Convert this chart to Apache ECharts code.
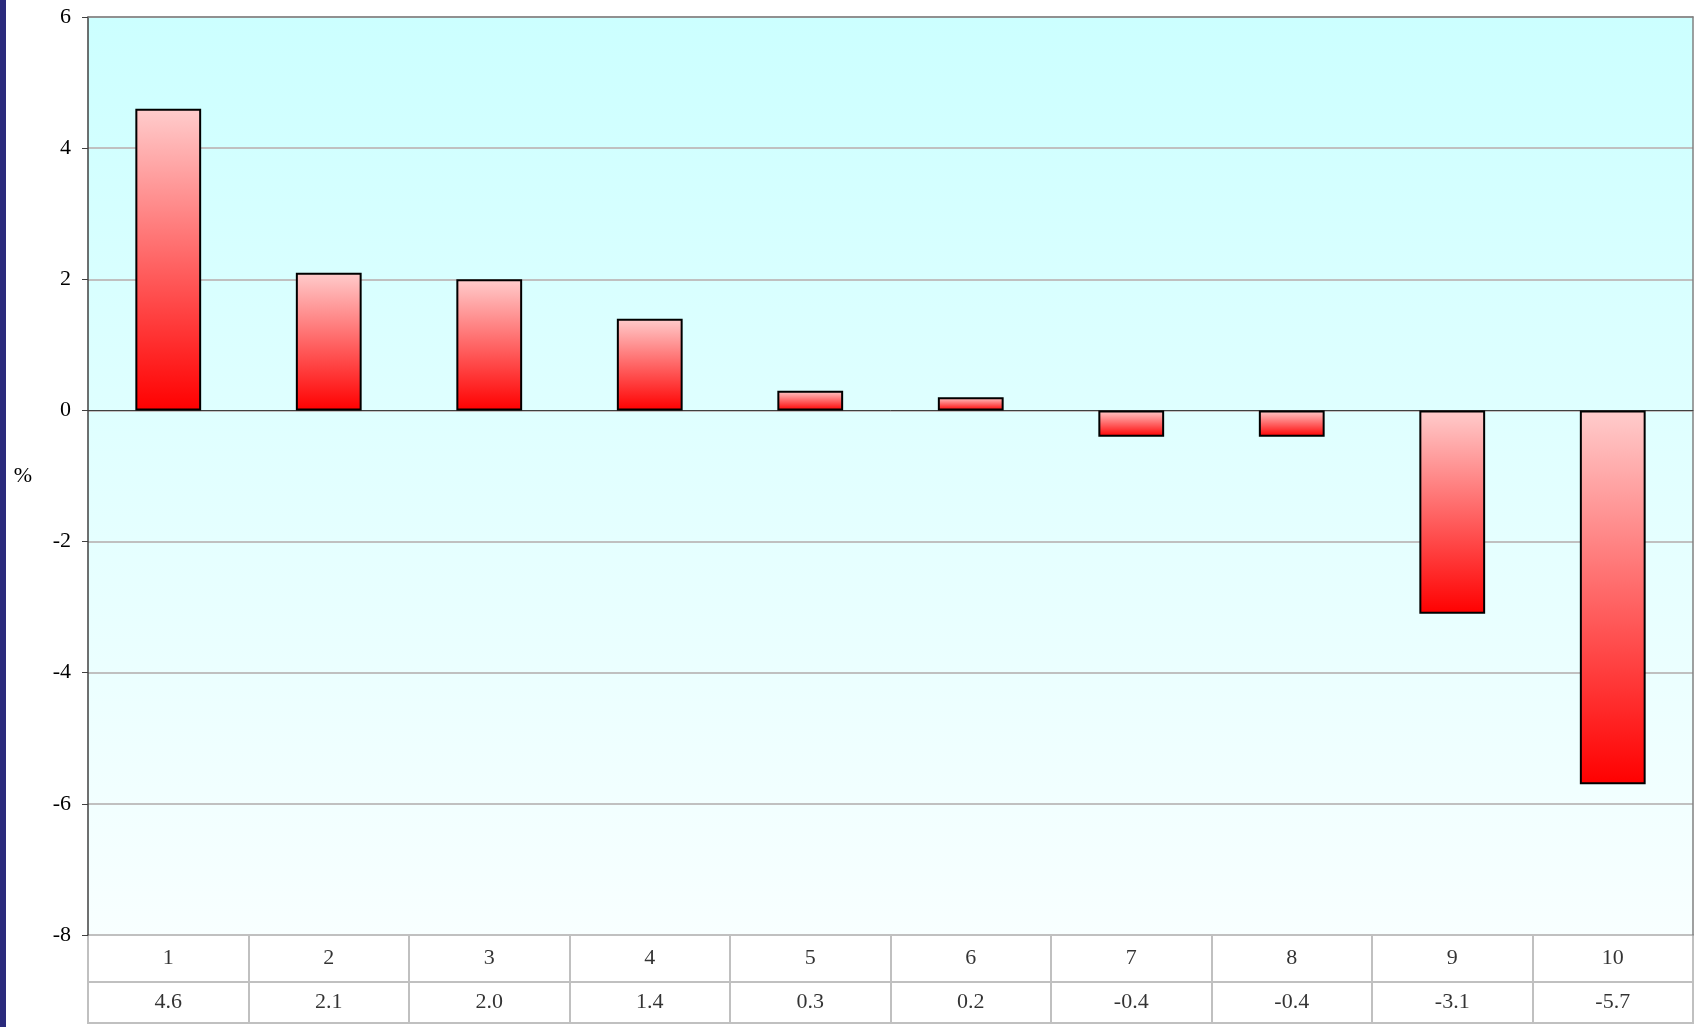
<!DOCTYPE html>
<html>
<head>
<meta charset="utf-8">
<script src="https://cdn.jsdelivr.net/npm/echarts@6/dist/echarts.min.js"></script>
<style>
  html, body { margin: 0; padding: 0; background: #ffffff; }
  #chart { width: 1698px; height: 1027px; }
</style>
</head>
<body>
<div id="chart"></div>
<script>
// Categories along the x axis and the value of each bar (%)
const categories = ['1', '2', '3', '4', '5', '6', '7', '8', '9', '10'];
const values = [4.6, 2.1, 2.0, 1.4, 0.3, 0.2, -0.4, -0.4, -3.1, -5.7];
// Value axis range and step
const yMin = -8;
const yMax = 6;
const yStep = 2;

const FONT = '"Liberation Serif", "Times New Roman", serif';
const valueLabels = values.map(v => v.toFixed(1));

const chart = echarts.init(document.getElementById('chart'), null, { renderer: 'canvas' });

// Data table under the plot: one grid per row, cell borders from split lines
const tableX = (gridIndex) => ({
  type: 'category',
  gridIndex: gridIndex,
  data: categories,
  boundaryGap: true,
  axisLine: { show: false },
  axisTick: { show: false },
  axisLabel: { show: false },
  splitLine: { show: true, interval: 0, lineStyle: { color: '#c0c0c0', width: 2 } }
});
const tableY = (gridIndex) => ({
  type: 'value', gridIndex: gridIndex, min: 0, max: 1,
  show: false, splitLine: { show: false }
});
const tableRow = (axisIndex, texts) => ({
  type: 'scatter',
  xAxisIndex: axisIndex,
  yAxisIndex: axisIndex,
  silent: true,
  symbolSize: 0,
  data: texts.map((t, i) => [i, 0.5]),
  label: {
    show: true,
    position: 'inside',
    formatter: p => texts[p.dataIndex],
    fontFamily: FONT,
    fontSize: 22,
    color: '#000000'
  }
});

chart.setOption({
  animation: false,
  backgroundColor: '#ffffff',
  graphic: [{
    type: 'rect',
    shape: { x: 0, y: 0, width: 6, height: 1027 },
    style: { fill: '#2a2a7c' },
    silent: true
  }],
  grid: [
    {
      left: 88, right: 5, top: 17, bottom: 92,
      show: true, borderWidth: 0,
      backgroundColor: new echarts.graphic.LinearGradient(0, 0, 0, 1, [
        { offset: 0, color: '#ccffff' },
        { offset: 1, color: '#f8ffff' }
      ])
    },
    { left: 88, right: 5, top: 935, height: 47, show: true, borderColor: '#c0c0c0', borderWidth: 2, backgroundColor: 'transparent' },
    { left: 88, right: 5, top: 982, height: 41, show: true, borderColor: '#c0c0c0', borderWidth: 2, backgroundColor: 'transparent' }
  ],
  xAxis: [
    {
      type: 'category', gridIndex: 0, data: categories,
      axisLine: { onZero: true, lineStyle: { color: '#404040', width: 1 } },
      axisTick: { show: false },
      axisLabel: { show: false },
      splitLine: { show: false }
    },
    tableX(1),
    tableX(2),
    {
      type: 'category', gridIndex: 0, data: categories, position: 'top',
      axisLine: { onZero: false, lineStyle: { color: '#808080', width: 1.5 } },
      axisTick: { show: false },
      axisLabel: { show: false },
      splitLine: { show: false }
    }
  ],
  yAxis: [
    {
      type: 'value', gridIndex: 0,
      min: yMin, max: yMax, interval: yStep,
      name: '%',
      nameLocation: 'middle',
      nameRotate: 0,
      nameGap: 56,
      nameTextStyle: { fontFamily: FONT, fontSize: 22, color: '#000000' },
      axisLine: { show: true, lineStyle: { color: '#404040', width: 1.5 } },
      axisTick: { show: true, length: 6, lineStyle: { color: '#404040', width: 1 } },
      axisLabel: { fontFamily: FONT, fontSize: 22, color: '#000000', margin: 17 },
      splitLine: { show: true, lineStyle: { color: '#c0c0c0', width: 2 } }
    },
    tableY(1),
    tableY(2),
    {
      type: 'value', gridIndex: 0, position: 'right',
      min: yMin, max: yMax, interval: yStep,
      axisLine: { show: true, lineStyle: { color: '#808080', width: 1.5 } },
      axisTick: { show: false },
      axisLabel: { show: false },
      splitLine: { show: false }
    }
  ],
  series: [
    {
      type: 'bar',
      xAxisIndex: 0,
      yAxisIndex: 0,
      data: values,
      barWidth: '41%',
      itemStyle: {
        color: new echarts.graphic.LinearGradient(0, 0, 0, 1, [
          { offset: 0, color: '#ffcccc' },
          { offset: 1, color: '#ff0000' }
        ]),
        borderColor: '#000000',
        borderWidth: 2
      }
    },
    tableRow(1, categories),
    tableRow(2, valueLabels)
  ]
});
</script>
</body>
</html>
